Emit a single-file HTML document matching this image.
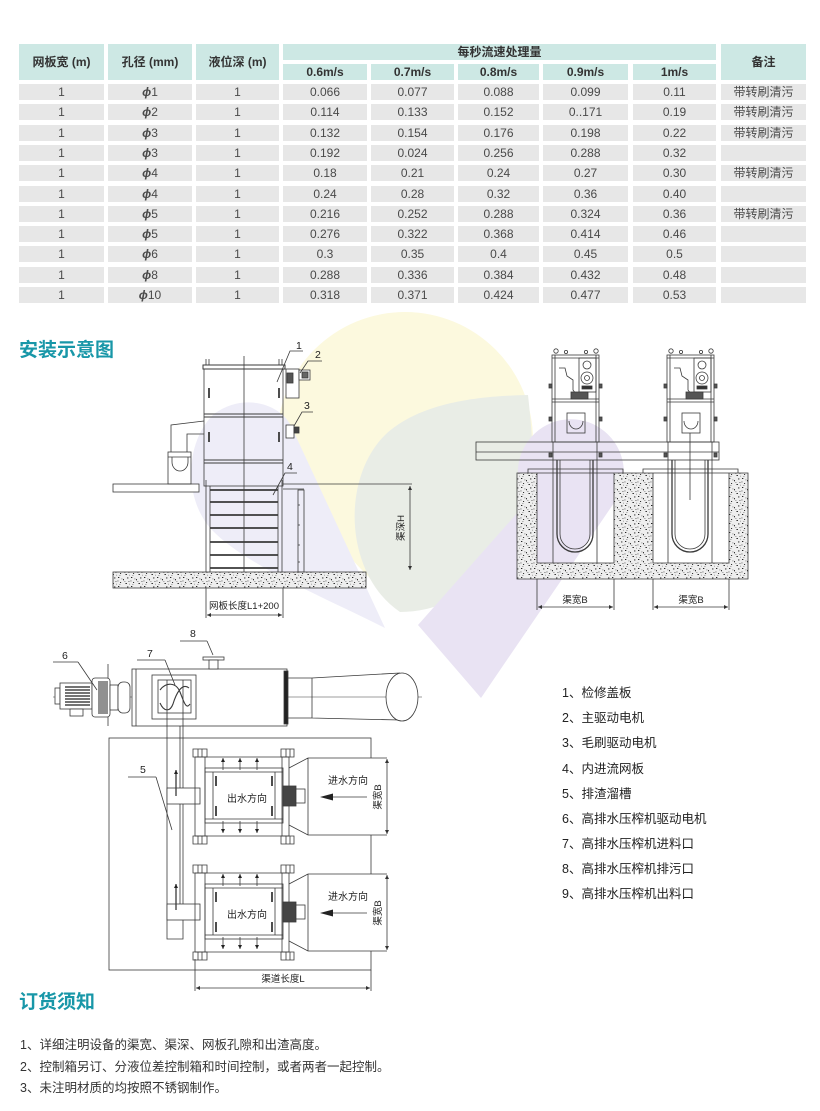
<!DOCTYPE html>
<html><head><meta charset="utf-8">
<style>
*{margin:0;padding:0;box-sizing:border-box}
body{width:820px;height:1111px;background:#fff;overflow:hidden}
#pg{position:relative;width:820px;height:1111px;overflow:hidden;background:#fff;font-family:"Liberation Sans","Noto Sans CJK SC",sans-serif;color:#333}
.c{position:absolute;text-align:center;font-size:12px;height:16px;line-height:16px;white-space:nowrap}
.h{background:#cde8e4;font-weight:bold;color:#333}
.d{background:#e7e7e7;color:#4a4a4a}
.d i{font-weight:bold}
.t{position:absolute;white-space:nowrap}
.ttl{position:absolute;left:19px;font-size:19px;font-weight:bold;color:#1897a8;letter-spacing:0px;line-height:20px}
.lg{position:absolute;left:562px;font-size:12.5px;line-height:14px;color:#222}
.nt{position:absolute;left:20px;font-size:12.5px;line-height:14px;color:#333}
svg text{font-family:"Liberation Sans","Noto Sans CJK SC",sans-serif;fill:#222;stroke:none}
</style></head><body><div id="pg">
<svg width="820" height="1111" viewBox="0 0 820 1111" style="position:absolute;left:0;top:0">
<defs>
<pattern id="sp" width="13" height="9" patternUnits="userSpaceOnUse">
<rect width="13" height="9" fill="#eeeeee"/>
<rect x="1" y="1" width="1.3" height="1" fill="#222"/>
<rect x="6" y="3" width="1" height="1.3" fill="#333"/>
<rect x="10" y="1.5" width="1.4" height="0.9" fill="#222"/>
<rect x="3" y="6" width="1.1" height="1" fill="#333"/>
<rect x="8.5" y="7" width="1.4" height="1" fill="#222"/>
<rect x="11.5" y="5" width="0.9" height="0.9" fill="#444"/>
<rect x="4.5" y="2.5" width="0.8" height="0.8" fill="#555"/>
<rect x="0.5" y="4.5" width="0.9" height="0.9" fill="#444"/>
<rect x="7.5" y="5.2" width="0.8" height="0.8" fill="#555"/>
<rect x="2.5" y="8" width="0.8" height="0.7" fill="#444"/>
<rect x="12" y="7.8" width="0.7" height="0.7" fill="#555"/>
</pattern>
<marker id="ar" viewBox="0 0 10 10" refX="10" refY="5" markerWidth="6" markerHeight="4" orient="auto-start-reverse" markerUnits="userSpaceOnUse"><path d="M0,0 L10,5 L0,10 z" fill="#333"/></marker>
<marker id="au" viewBox="0 0 10 10" refX="10" refY="5" markerWidth="5" markerHeight="4" orient="auto" markerUnits="userSpaceOnUse"><path d="M0,0 L10,5 L0,10 z" fill="#222"/></marker>
</defs>

<!-- watermark -->
<g style="mix-blend-mode:multiply">
<path d="M400,608 C330,540 277,480 277,440 A128,128 0 1 1 533,440 C533,490 470,540 400,608 Z" fill="#fcf9de"/>
<path d="M400,612 C345,575 340,480 385,435 C420,402 480,396 528,395 C534,450 540,520 505,562 C475,595 435,612 400,612 Z" fill="#e9ede6"/>
<path d="M385,628 C330,600 245,565 212,530 C182,498 186,440 214,414 C244,392 282,404 292,428 Z" fill="#eeedf8"/>
<path d="M418,625 L527,502 A53,53 0 1 1 616,500 L481,698 Z" fill="#e9e3f3"/>
</g>

<g stroke="#3a3a3a" stroke-width="0.8" fill="none">
<!-- ===== left elevation ===== -->
<rect x="113" y="572" width="253" height="16" fill="url(#sp)"/>
<rect x="113" y="484" width="86" height="8" fill="#fff"/>
<rect x="168" y="452" width="23" height="32"/>
<line x1="168" y1="457" x2="191" y2="457"/>
<path d="M172,457 V462 A8,9 0 0 0 188,462 V457"/>
<path d="M171,452 V425 L204,421 M187,452 V434 H204"/>
<rect x="203" y="365" width="82" height="4" fill="#fff" stroke-width="1"/>
<path d="M206,359 V365 M209,359 V365 M279,359 V365 M282,359 V365"/>
<rect x="204" y="369" width="79" height="117"/>
<path d="M204,414 H283 M204,417 H283 M204,460 H283 M204,463 H283" stroke-width="1.1"/>
<path d="M209,388 V398 M279,388 V398 M209,432 V442 M279,432 V442" stroke-width="1.8"/>
<line x1="244" y1="356" x2="244" y2="572"/>
<path d="M206,480 V572 M282,480 V572 M210,486 V572 M278,486 V572"/>
<path d="M210,490 H278 M210,502 H278 M210,515 H278 M210,528 H278 M210,542 H278 M210,555 H278 M210,568 H278" stroke-width="1.7"/>
<line x1="283" y1="484" x2="412" y2="484"/>
<line x1="283" y1="489" x2="304" y2="489"/>
<rect x="298" y="490" width="6" height="82"/>
<path d="M298,505 h2 M298,525 h2 M298,545 h2 M298,562 h2"/>
<line x1="410" y1="486" x2="410" y2="570" marker-start="url(#ar)" marker-end="url(#ar)"/>
<path d="M206,588 V618 M283,588 V618"/>
<line x1="207" y1="615" x2="282" y2="615" marker-start="url(#ar)" marker-end="url(#ar)"/>
<!-- motors -->
<rect x="286" y="369" width="13" height="29" fill="#fff"/>
<rect x="287" y="373" width="6" height="10" fill="#555"/>
<rect x="299" y="370" width="11" height="10" fill="#fff"/>
<rect x="302" y="372" width="6" height="6" fill="#666"/>
<rect x="286" y="425" width="8" height="13" fill="#fff"/>
<rect x="294" y="427" width="5" height="6" fill="#444"/>
<!-- leaders -->
<path d="M303,351 H290 L277,382 M322,361 H308 L300,373 M313,412 H302 L294,426 M297,473 H285 L273,495"/>

<!-- ===== right elevation ===== -->
<rect x="476" y="442" width="243" height="18"/>
<line x1="476" y1="452" x2="719" y2="452"/>
<path d="M517,473 H748 V579 H517 Z M537,473 V563 H614 V473 Z M653,473 V563 H729 V473 Z" fill="url(#sp)" fill-rule="evenodd"/>
<path d="M528,473 V469 H623 V473 M643,473 V469 H738 V473"/>
<g id="u1">
<circle cx="556" cy="351" r="2.2"/><circle cx="566" cy="352" r="1.6"/><circle cx="586" cy="352" r="1.6"/><circle cx="596" cy="351" r="2.2"/>
<rect x="552" y="355" width="47" height="87"/>
<path d="M555,355 V442 M596,355 V442 M552,358 H599 M552,399 H599 M552,402 H599"/>
<rect x="579" y="358" width="17" height="34"/>
<circle cx="587" cy="365" r="4"/><circle cx="587" cy="378" r="6"/><circle cx="587" cy="378" r="2.5"/>
<rect x="582" y="386" width="10" height="3" fill="#333"/>
<path d="M559,368 H565 L567,376 L573,380 V390 L576,394"/>
<rect x="571" y="392" width="17" height="7" fill="#555"/>
<rect x="567" y="413" width="18" height="20"/>
<path d="M569,421 A7,8 0 0 0 583,421"/>
<path d="M549,384 h3 v4 h-3z M549,417 h3 v4 h-3z M549,453 h3 v4 h-3z M599,384 h3 v4 h-3z M599,417 h3 v4 h-3z M599,453 h3 v4 h-3z" fill="#555"/>
<path d="M553,442 V563 M597,442 V563"/>
<path d="M557,460 V534 A18,18 0 0 0 593,534 V460" stroke-width="1.3"/>
<path d="M560,460 V534 A15,15 0 0 0 590,534 V460"/>
</g>
<use href="#u1" x="115" y="0"/>
<line x1="690" y1="433" x2="690" y2="500"/>
<path d="M537,579 V610 M614,579 V610 M653,579 V610 M729,579 V610"/>
<line x1="538" y1="607" x2="613" y2="607" marker-start="url(#ar)" marker-end="url(#ar)"/>
<line x1="654" y1="607" x2="728" y2="607" marker-start="url(#ar)" marker-end="url(#ar)"/>

<!-- ===== plan ===== -->
<line x1="53" y1="697" x2="422" y2="697" stroke-width="0.6"/>
<line x1="108" y1="664" x2="108" y2="726"/>
<rect x="55" y="688" width="5" height="16" fill="#fff"/>
<rect x="60" y="683" width="32" height="26" fill="#fff"/>
<g stroke="#222" stroke-width="1.2"><path d="M65,687 H90 M65,690 H90 M65,693 H90 M65,696 H90 M65,699 H90 M65,702 H90 M65,705 H90"/></g>
<rect x="70" y="709" width="13" height="7" fill="#fff"/>
<rect x="92" y="678" width="18" height="39" rx="3" fill="#fff"/>
<g stroke="#222" stroke-width="1"><path d="M99,681 V714 M101,681 V714 M103,681 V714 M105,681 V714 M107,681 V714"/></g>
<rect x="110" y="685" width="8" height="25" fill="#fff"/>
<rect x="118" y="682" width="12" height="31" rx="5" fill="#fff"/>
<rect x="132" y="669" width="155" height="57" fill="#fff"/>
<line x1="136" y1="669" x2="136" y2="726"/>
<rect x="284" y="671" width="4" height="53" fill="#222"/>
<rect x="152" y="675" width="44" height="44"/>
<rect x="158" y="680" width="33" height="33"/>
<path d="M167,680 V726 M183,680 V726"/>
<path d="M160,690 C166,682 176,682 180,692 C184,702 186,710 190,704 M160,703 C164,712 170,712 173,704 C176,694 182,682 189,688" stroke-width="1.1"/>
<rect x="203" y="657" width="21" height="3" fill="#fff"/>
<rect x="209" y="660" width="9" height="9" fill="#fff"/>
<path d="M288,678 H312 M288,718 H312 M312,678 V718 M312,678 L400,673 M312,718 L400,720"/>
<ellipse cx="402" cy="697" rx="16" ry="24" fill="#fff"/>
<path d="M78,662 H53 M78,662 L97,690 M165,660 H137 M165,660 L175,685 M207,641 H180 M207,641 L213,655"/>

<rect x="109" y="738" width="262" height="232"/>
<path d="M167,726 V939 H183 V726 M180,726 V905"/>
<rect x="167" y="788" width="33" height="16" fill="#fff"/>
<rect x="167" y="904" width="33" height="16" fill="#fff"/>
<line x1="176" y1="796" x2="176" y2="770" marker-end="url(#au)" stroke-width="1.3"/>
<line x1="176" y1="910" x2="176" y2="884" marker-end="url(#au)" stroke-width="1.3"/>
<path d="M156,777 H128 M156,777 L172,830"/>
<g id="pu">
<rect x="308" y="758" width="79" height="77" fill="#fff" stroke="none"/>
<path d="M195,750 V843 M205,750 V843 M282,750 V843 M289,750 V843"/>
<path d="M193,749 h14 v8 h-14z M281,749 h13 v8 h-13z M193,836 h14 v8 h-14z M281,836 h13 v8 h-13z" fill="#fff"/>
<path d="M198,749 v8 M202,749 v8 M286,749 v8 M290,749 v8 M198,836 v8 M202,836 v8 M286,836 v8 M290,836 v8"/>
<path d="M195,757 H289 M195,836 H289"/>
<rect x="205" y="768" width="78" height="55"/>
<path d="M205,772 H283 M205,819 H283 M213,772 V819 M275,772 V819"/>
<path d="M216,776 V786 M272,776 V786 M216,806 V816 M272,806 V816" stroke-width="1.8"/>
<line x1="223" y1="770" x2="223" y2="758" marker-end="url(#au)"/>
<line x1="240" y1="770" x2="240" y2="758" marker-end="url(#au)"/>
<line x1="257" y1="770" x2="257" y2="758" marker-end="url(#au)"/>
<line x1="223" y1="821" x2="223" y2="833" marker-end="url(#au)"/>
<line x1="240" y1="821" x2="240" y2="833" marker-end="url(#au)"/>
<line x1="257" y1="821" x2="257" y2="833" marker-end="url(#au)"/>
<rect x="283" y="786" width="13" height="20" fill="#444"/>
<rect x="296" y="789" width="9" height="14" fill="#fff"/>
<path d="M289,768 L308,758 H387 M289,825 L308,835 H387 M308,758 V835"/>
<line x1="387" y1="759" x2="387" y2="834" marker-start="url(#ar)" marker-end="url(#ar)"/>
<line x1="367" y1="797" x2="330" y2="797"/>
<polygon points="320,797 333,793.5 333,800.5" fill="#222" stroke="none"/>
</g>
<use href="#pu" x="0" y="116"/>
<path d="M195,959 V991 M371,970 V991"/>
<line x1="196" y1="988" x2="370" y2="988" marker-start="url(#ar)" marker-end="url(#ar)"/>
</g>

<!-- diagram labels -->
<g font-size="10.5">
<text x="296" y="349">1</text>
<text x="315" y="358">2</text>
<text x="304" y="409">3</text>
<text x="287" y="470">4</text>
<text x="62" y="659">6</text>
<text x="147" y="657">7</text>
<text x="190" y="637">8</text>
<text x="140" y="773">5</text>
</g>
<g font-size="9.5">
<text x="244" y="609" text-anchor="middle">网板长度L1+200</text>
<text transform="translate(404,528) rotate(-90)" text-anchor="middle">渠深H</text>
<text x="575" y="603" text-anchor="middle">渠宽B</text>
<text x="691" y="603" text-anchor="middle">渠宽B</text>
<text x="283" y="982" text-anchor="middle">渠道长度L</text>
<text transform="translate(381,797) rotate(-90)" text-anchor="middle">渠宽B</text>
<text transform="translate(381,913) rotate(-90)" text-anchor="middle">渠宽B</text>
</g>
<g font-size="10">
<text x="247" y="802" text-anchor="middle">出水方向</text>
<text x="247" y="918" text-anchor="middle">出水方向</text>
<text x="348" y="784" text-anchor="middle">进水方向</text>
<text x="348" y="900" text-anchor="middle">进水方向</text>
</g>
</svg>

<!-- table header -->
<div class="c h" style="left:19px;top:44px;width:85px;height:36px;line-height:36px">网板宽 (m)</div>
<div class="c h" style="left:108px;top:44px;width:84px;height:36px;line-height:36px">孔径 (mm)</div>
<div class="c h" style="left:196px;top:44px;width:83px;height:36px;line-height:36px">液位深 (m)</div>
<div class="c h" style="left:283px;top:44px;width:433px">每秒流速处理量</div>
<div class="c h" style="left:721px;top:44px;width:85px;height:36px;line-height:36px">备注</div>
<div class="c h" style="left:283px;top:64px;width:84px">0.6m/s</div>
<div class="c h" style="left:371px;top:64px;width:83px">0.7m/s</div>
<div class="c h" style="left:458px;top:64px;width:81px">0.8m/s</div>
<div class="c h" style="left:543px;top:64px;width:85px">0.9m/s</div>
<div class="c h" style="left:633px;top:64px;width:83px">1m/s</div>

<!-- rows -->
<div style="position:absolute;left:0;top:84px">
<div class="c d" style="left:19px;top:0;width:85px">1</div><div class="c d" style="left:108px;top:0;width:84px"><i>ϕ</i>1</div><div class="c d" style="left:196px;top:0;width:83px">1</div><div class="c d" style="left:283px;top:0;width:84px">0.066</div><div class="c d" style="left:371px;top:0;width:83px">0.077</div><div class="c d" style="left:458px;top:0;width:81px">0.088</div><div class="c d" style="left:543px;top:0;width:85px">0.099</div><div class="c d" style="left:633px;top:0;width:83px">0.11</div><div class="c d" style="left:721px;top:0;width:85px">带转刷清污</div>
</div>
<div style="position:absolute;left:0;top:104.3px">
<div class="c d" style="left:19px;top:0;width:85px">1</div><div class="c d" style="left:108px;top:0;width:84px"><i>ϕ</i>2</div><div class="c d" style="left:196px;top:0;width:83px">1</div><div class="c d" style="left:283px;top:0;width:84px">0.114</div><div class="c d" style="left:371px;top:0;width:83px">0.133</div><div class="c d" style="left:458px;top:0;width:81px">0.152</div><div class="c d" style="left:543px;top:0;width:85px">0..171</div><div class="c d" style="left:633px;top:0;width:83px">0.19</div><div class="c d" style="left:721px;top:0;width:85px">带转刷清污</div>
</div>
<div style="position:absolute;left:0;top:124.6px">
<div class="c d" style="left:19px;top:0;width:85px">1</div><div class="c d" style="left:108px;top:0;width:84px"><i>ϕ</i>3</div><div class="c d" style="left:196px;top:0;width:83px">1</div><div class="c d" style="left:283px;top:0;width:84px">0.132</div><div class="c d" style="left:371px;top:0;width:83px">0.154</div><div class="c d" style="left:458px;top:0;width:81px">0.176</div><div class="c d" style="left:543px;top:0;width:85px">0.198</div><div class="c d" style="left:633px;top:0;width:83px">0.22</div><div class="c d" style="left:721px;top:0;width:85px">带转刷清污</div>
</div>
<div style="position:absolute;left:0;top:144.9px">
<div class="c d" style="left:19px;top:0;width:85px">1</div><div class="c d" style="left:108px;top:0;width:84px"><i>ϕ</i>3</div><div class="c d" style="left:196px;top:0;width:83px">1</div><div class="c d" style="left:283px;top:0;width:84px">0.192</div><div class="c d" style="left:371px;top:0;width:83px">0.024</div><div class="c d" style="left:458px;top:0;width:81px">0.256</div><div class="c d" style="left:543px;top:0;width:85px">0.288</div><div class="c d" style="left:633px;top:0;width:83px">0.32</div><div class="c d" style="left:721px;top:0;width:85px"></div>
</div>
<div style="position:absolute;left:0;top:165.2px">
<div class="c d" style="left:19px;top:0;width:85px">1</div><div class="c d" style="left:108px;top:0;width:84px"><i>ϕ</i>4</div><div class="c d" style="left:196px;top:0;width:83px">1</div><div class="c d" style="left:283px;top:0;width:84px">0.18</div><div class="c d" style="left:371px;top:0;width:83px">0.21</div><div class="c d" style="left:458px;top:0;width:81px">0.24</div><div class="c d" style="left:543px;top:0;width:85px">0.27</div><div class="c d" style="left:633px;top:0;width:83px">0.30</div><div class="c d" style="left:721px;top:0;width:85px">带转刷清污</div>
</div>
<div style="position:absolute;left:0;top:185.5px">
<div class="c d" style="left:19px;top:0;width:85px">1</div><div class="c d" style="left:108px;top:0;width:84px"><i>ϕ</i>4</div><div class="c d" style="left:196px;top:0;width:83px">1</div><div class="c d" style="left:283px;top:0;width:84px">0.24</div><div class="c d" style="left:371px;top:0;width:83px">0.28</div><div class="c d" style="left:458px;top:0;width:81px">0.32</div><div class="c d" style="left:543px;top:0;width:85px">0.36</div><div class="c d" style="left:633px;top:0;width:83px">0.40</div><div class="c d" style="left:721px;top:0;width:85px"></div>
</div>
<div style="position:absolute;left:0;top:205.8px">
<div class="c d" style="left:19px;top:0;width:85px">1</div><div class="c d" style="left:108px;top:0;width:84px"><i>ϕ</i>5</div><div class="c d" style="left:196px;top:0;width:83px">1</div><div class="c d" style="left:283px;top:0;width:84px">0.216</div><div class="c d" style="left:371px;top:0;width:83px">0.252</div><div class="c d" style="left:458px;top:0;width:81px">0.288</div><div class="c d" style="left:543px;top:0;width:85px">0.324</div><div class="c d" style="left:633px;top:0;width:83px">0.36</div><div class="c d" style="left:721px;top:0;width:85px">带转刷清污</div>
</div>
<div style="position:absolute;left:0;top:226.1px">
<div class="c d" style="left:19px;top:0;width:85px">1</div><div class="c d" style="left:108px;top:0;width:84px"><i>ϕ</i>5</div><div class="c d" style="left:196px;top:0;width:83px">1</div><div class="c d" style="left:283px;top:0;width:84px">0.276</div><div class="c d" style="left:371px;top:0;width:83px">0.322</div><div class="c d" style="left:458px;top:0;width:81px">0.368</div><div class="c d" style="left:543px;top:0;width:85px">0.414</div><div class="c d" style="left:633px;top:0;width:83px">0.46</div><div class="c d" style="left:721px;top:0;width:85px"></div>
</div>
<div style="position:absolute;left:0;top:246.4px">
<div class="c d" style="left:19px;top:0;width:85px">1</div><div class="c d" style="left:108px;top:0;width:84px"><i>ϕ</i>6</div><div class="c d" style="left:196px;top:0;width:83px">1</div><div class="c d" style="left:283px;top:0;width:84px">0.3</div><div class="c d" style="left:371px;top:0;width:83px">0.35</div><div class="c d" style="left:458px;top:0;width:81px">0.4</div><div class="c d" style="left:543px;top:0;width:85px">0.45</div><div class="c d" style="left:633px;top:0;width:83px">0.5</div><div class="c d" style="left:721px;top:0;width:85px"></div>
</div>
<div style="position:absolute;left:0;top:266.7px">
<div class="c d" style="left:19px;top:0;width:85px">1</div><div class="c d" style="left:108px;top:0;width:84px"><i>ϕ</i>8</div><div class="c d" style="left:196px;top:0;width:83px">1</div><div class="c d" style="left:283px;top:0;width:84px">0.288</div><div class="c d" style="left:371px;top:0;width:83px">0.336</div><div class="c d" style="left:458px;top:0;width:81px">0.384</div><div class="c d" style="left:543px;top:0;width:85px">0.432</div><div class="c d" style="left:633px;top:0;width:83px">0.48</div><div class="c d" style="left:721px;top:0;width:85px"></div>
</div>
<div style="position:absolute;left:0;top:287px">
<div class="c d" style="left:19px;top:0;width:85px">1</div><div class="c d" style="left:108px;top:0;width:84px"><i>ϕ</i>10</div><div class="c d" style="left:196px;top:0;width:83px">1</div><div class="c d" style="left:283px;top:0;width:84px">0.318</div><div class="c d" style="left:371px;top:0;width:83px">0.371</div><div class="c d" style="left:458px;top:0;width:81px">0.424</div><div class="c d" style="left:543px;top:0;width:85px">0.477</div><div class="c d" style="left:633px;top:0;width:83px">0.53</div><div class="c d" style="left:721px;top:0;width:85px"></div>
</div>

<div class="ttl" style="top:341px">安装示意图</div>
<div class="ttl" style="top:993px">订货须知</div>

<div class="lg" style="top:686px">1、检修盖板</div>
<div class="lg" style="top:711px">2、主驱动电机</div>
<div class="lg" style="top:736px">3、毛刷驱动电机</div>
<div class="lg" style="top:762px">4、内进流网板</div>
<div class="lg" style="top:787px">5、排渣溜槽</div>
<div class="lg" style="top:812px">6、高排水压榨机驱动电机</div>
<div class="lg" style="top:837px">7、高排水压榨机进料口</div>
<div class="lg" style="top:862px">8、高排水压榨机排污口</div>
<div class="lg" style="top:887px">9、高排水压榨机出料口</div>

<div class="nt" style="top:1038px">1、详细注明设备的渠宽、渠深、网板孔隙和出渣高度。</div>
<div class="nt" style="top:1060px">2、控制箱另订、分液位差控制箱和时间控制，或者两者一起控制。</div>
<div class="nt" style="top:1081px">3、未注明材质的均按照不锈钢制作。</div>
</div></body></html>
